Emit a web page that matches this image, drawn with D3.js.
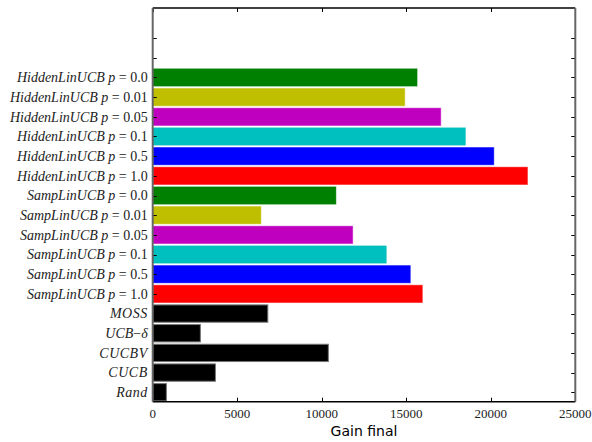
<!DOCTYPE html>
<html><head><meta charset="utf-8">
<script src="https://cdn.jsdelivr.net/npm/d3@7"></script>
<style>body{margin:0;background:#fff}svg{display:block}</style>
</head><body>
<script>
// data (top to bottom)
const categories = [
  "HiddenLinUCB p = 0.0","HiddenLinUCB p = 0.01","HiddenLinUCB p = 0.05","HiddenLinUCB p = 0.1",
  "HiddenLinUCB p = 0.5","HiddenLinUCB p = 1.0",
  "SampLinUCB p = 0.0","SampLinUCB p = 0.01","SampLinUCB p = 0.05","SampLinUCB p = 0.1",
  "SampLinUCB p = 0.5","SampLinUCB p = 1.0",
  "MOSS","UCB−δ","CUCBV","CUCB","Rand"
];
const gains = [15640,14910,17040,18500,20180,22170,10840,6400,11830,13820,15240,15950,6810,2820,10390,3710,810];
const barColors = ["#008000","#bfbf00","#bf00bf","#00bfbf","#0000ff","#ff0000",
                   "#008000","#bfbf00","#bf00bf","#00bfbf","#0000ff","#ff0000",
                   "#000000","#000000","#000000","#000000","#000000"];
const xTicks = [0,5000,10000,15000,20000,25000];
const emptyTicks = 2;
const xLabel = "Gain final";

const W = 592, H = 442;
const m = {left:152.7, right:W-575.3, top:8, bottom:H-401.7};
const svg = d3.select("body").append("svg").attr("width",W).attr("height",H);

const n = categories.length;
const x = d3.scaleLinear().domain([0,25000]).range([m.left, W-m.right]);
const y = d3.scaleLinear().domain([-0.48, n-1+emptyTicks+1.53]).range([H-m.bottom, m.top]);
const idx = i => n-1-i;
const bh = Math.abs(y(0.44)-y(-0.44));

svg.append("g").selectAll("rect").data(gains).join("rect")
  .attr("x", x(0))
  .attr("y", (d,i)=>y(idx(i))-bh/2)
  .attr("width", d=>x(d)-x(0))
  .attr("height", bh)
  .attr("fill", (d,i)=>barColors[i])
  .attr("stroke", (d,i)=>barColors[i]==="#000000" ? "#777" : barColors[i])
  .attr("stroke-opacity", (d,i)=>barColors[i]==="#000000" ? 1 : 0.45)
  .attr("stroke-width", 1);

// ticks
const yTickVals = d3.range(0, n+emptyTicks);
const tk = 4;
const gT = svg.append("g").attr("stroke","#000").attr("stroke-width",1);
yTickVals.forEach(v=>{
  const yy = Math.round(y(v))+0.5;
  gT.append("line").attr("x1",x(0)).attr("x2",x(0)+tk).attr("y1",yy).attr("y2",yy);
  gT.append("line").attr("x1",x(25000)).attr("x2",x(25000)-tk).attr("y1",yy).attr("y2",yy);
});
xTicks.forEach(v=>{
  const xx = Math.round(x(v))+0.5;
  gT.append("line").attr("x1",xx).attr("x2",xx).attr("y1",H-m.bottom).attr("y2",H-m.bottom-tk);
  gT.append("line").attr("x1",xx).attr("x2",xx).attr("y1",m.top).attr("y2",m.top+tk);
});

// y labels
const lab = svg.append("g").attr("font-family","'Liberation Serif','DejaVu Serif',serif")
  .attr("font-size",14).attr("fill","#222").attr("text-anchor","end");
categories.forEach((c,i)=>{
  const t = lab.append("text").attr("x", x(0)-5).attr("y", y(idx(i))).attr("dy","0.35em");
  const mt = c.match(/^(.*) p = (.*)$/);
  if (mt) {
    t.append("tspan").attr("font-style","italic").text(mt[1]);
    t.append("tspan").attr("font-style","italic").text(" p");
    t.append("tspan").text(" = " + mt[2]);
  } else if (c.includes("−")) {
    const [a,b] = c.split("−");
    t.append("tspan").attr("font-style","italic").text(a);
    t.append("tspan").text("−");
    t.append("tspan").attr("font-style","italic").text(b);
  } else {
    t.append("tspan").attr("font-style","italic").attr("letter-spacing","0.5").text(c);
  }
});

// x tick labels
svg.append("g").attr("font-family","'Liberation Serif','DejaVu Serif',serif").attr("font-size",13)
  .attr("fill","#222").attr("text-anchor","middle").selectAll("text").data(xTicks).join("text")
  .attr("x", d=>x(d)).attr("y", H-m.bottom+16).text(d=>d);

svg.append("text").attr("x", (x(0)+x(25000))/2).attr("y", 436)
  .attr("text-anchor","middle").attr("font-family","'DejaVu Sans',sans-serif").attr("font-size",14)
  .text(xLabel);

// frame
svg.append("line").attr("x1",x(0)).attr("x2",x(25000)).attr("y1",m.top).attr("y2",m.top).attr("stroke","#000").attr("stroke-width",1.5);
svg.append("line").attr("x1",x(0)).attr("x2",x(25000)).attr("y1",H-m.bottom).attr("y2",H-m.bottom).attr("stroke","#000").attr("stroke-width",1.5);
svg.append("line").attr("x1",x(0)).attr("x2",x(0)).attr("y1",m.top).attr("y2",H-m.bottom).attr("stroke","#666").attr("stroke-width",2);
svg.append("line").attr("x1",x(25000)).attr("x2",x(25000)).attr("y1",m.top).attr("y2",H-m.bottom).attr("stroke","#666").attr("stroke-width",2);
</script>
</body></html>
